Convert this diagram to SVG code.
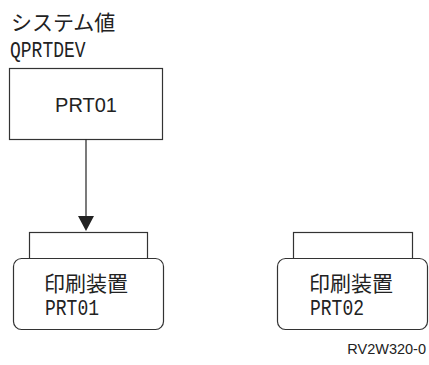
<svg xmlns="http://www.w3.org/2000/svg" width="429" height="365" viewBox="0 0 429 365">
<style>
.box{fill:#fff;stroke:#333;stroke-width:1.2}
.cjk{font-family:"Noto Sans CJK JP","Noto Sans CJK SC",sans-serif;font-size:21px;fill:#222}
.mono{font-family:"Liberation Mono","DejaVu Sans Mono",monospace;font-size:18px;fill:#222}
.sans{font-family:"Liberation Sans",Arial,sans-serif;fill:#222}
.conn{stroke:#222;stroke-width:1.2;fill:none}
</style>
<rect width="429" height="365" fill="#fff"/>
<g id="sysval">
<text class="cjk" x="11" y="30">システム値</text>
<text class="mono" transform="translate(10,57) scale(1,1.25)">QPRTDEV</text>
<rect class="box" x="9.5" y="68.5" width="153" height="71"/>
<text class="sans" x="86" y="112" font-size="20" text-anchor="middle">PRT01</text>
</g>
<g id="prt01">
<rect class="box" x="29.5" y="232.5" width="118" height="27"/>
<rect class="box" x="13.5" y="258.5" width="150" height="71" rx="8"/>
<text class="cjk" x="44" y="291">印刷装置</text>
<text class="mono" transform="translate(45,315) scale(1,1.25)">PRT01</text>
</g>
<g id="prt02">
<rect class="box" x="293.5" y="232.5" width="119" height="27"/>
<rect class="box" x="277.5" y="258.5" width="150" height="71" rx="8"/>
<text class="cjk" x="309" y="291">印刷装置</text>
<text class="mono" transform="translate(310,315) scale(1,1.25)">PRT02</text>
</g>
<g id="connectors">
<line class="conn" x1="86" y1="139.5" x2="86" y2="217"/>
<polygon points="78,216 94,216 86,231" fill="#222"/>
</g>
<text class="sans" x="426" y="354" font-size="14.5" text-anchor="end">RV2W320-0</text>
</svg>
